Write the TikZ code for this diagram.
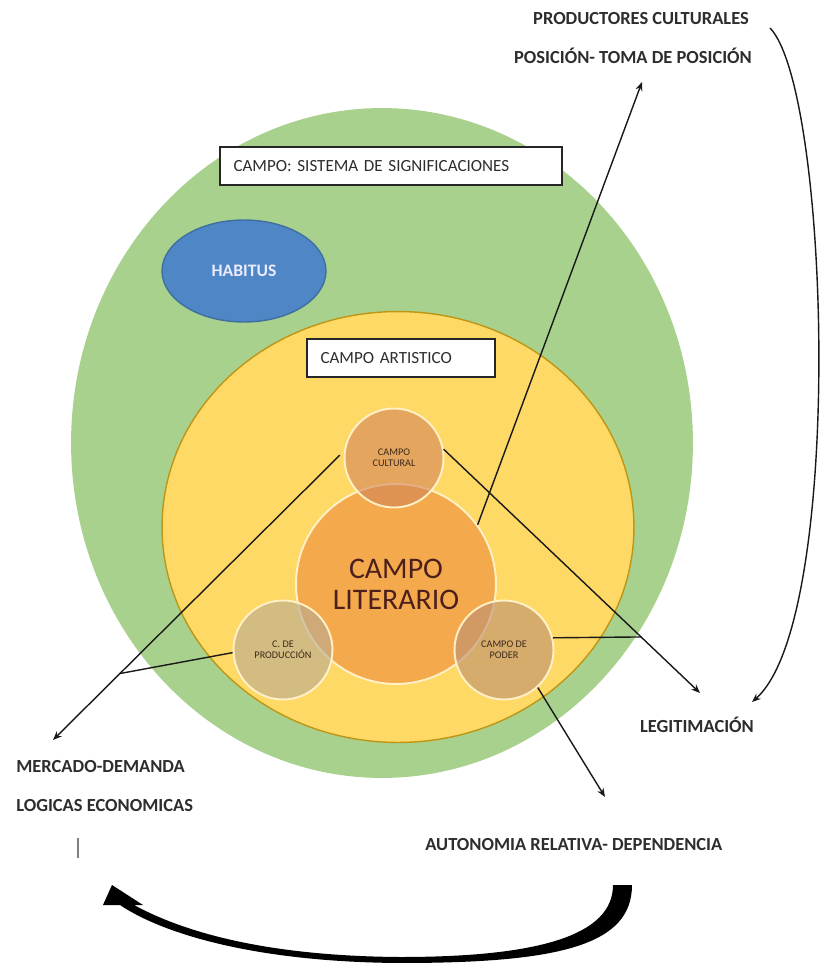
\documentclass[tikz,border=0pt]{standalone}
\usepackage{fontspec}
\setmainfont{Carlito}
\usetikzlibrary{positioning,arrows.meta,shapes.geometric}

\definecolor{campogreen}{RGB}{169,209,142}
\definecolor{campoyellow}{RGB}{255,217,102}
\definecolor{yellowedge}{RGB}{191,150,20}
\definecolor{literorange}{RGB}{244,170,76}
\definecolor{culttan}{RGB}{210,132,89}
\definecolor{podertan}{RGB}{187,142,115}
\definecolor{prodtan}{RGB}{183,169,149}
\definecolor{circedge}{RGB}{255,240,200}
\definecolor{habblue}{RGB}{78,134,198}
\definecolor{habedge}{RGB}{63,111,160}
\definecolor{labelgray}{RGB}{45,45,45}
\definecolor{circtext}{RGB}{60,40,25}
\definecolor{literbrown}{RGB}{77,31,28}

\tikzset{
    titlebox/.style={draw=black!85, line width=1.2pt, fill=white, inner xsep=0.27cm,
        minimum height=0.76cm, align=left, text=labelgray,
        font=\fontsize{9.7}{11}\selectfont},
    outerlabel/.style={text=labelgray, inner sep=0pt,
        font=\bfseries\fontsize{10.5}{12}\selectfont},
    subcircle/.style={circle, draw=circedge, line width=1.1pt, minimum size=1.98cm,
        inner sep=0pt, fill opacity=0.6, text opacity=1, align=center,
        text=circtext, font=\fontsize{5.8}{6.3}\selectfont},
    conn/.style={draw=black!90, line width=0.8pt}
}

\begin{document}
\begin{tikzpicture}[>={Stealth[length=5pt,width=4pt]}, x=0.02cm, y=-0.02cm]
    \useasboundingbox (0,0) rectangle (820,963);

    % outer fields
    \node[ellipse, fill=campogreen, minimum width=12.44cm, minimum height=13.4cm, inner sep=0pt]
        (sistema) at (382,443) {};
    \node[ellipse, fill=campoyellow, draw=yellowedge, line width=0.8pt,
        minimum width=9.44cm, minimum height=8.62cm, inner sep=0pt] (artistico) at (398,527) {};
    \node[ellipse, fill=habblue, draw=habedge, line width=0.8pt, minimum width=3.28cm,
        minimum height=2.04cm, inner sep=0pt, text=white!92!blue,
        font=\bfseries\fontsize{10}{12}\selectfont] (habitus) at (244,271) {HABITUS};

    % titles
    \node[titlebox, text width=6.30cm] (titleSis) at (391,166) {CAMPO: SISTEMA DE SIGNIFICACIONES};
    \node[titlebox, text width=3.22cm] (titleArt) at (401,358) {CAMPO ARTISTICO};

    % inner circles
    \node[circle, fill=literorange, draw=circedge, line width=1.1pt, minimum size=4.0cm,
        inner sep=0pt, align=center, text=literbrown, font=\fontsize{17}{17.6}\selectfont]
        (lit) at (396,584) {CAMPO\\LITERARIO};
    \foreach \name/\x/\y/\col/\txt in {cult/394/458/culttan/{CAMPO\\CULTURAL},
        prod/283/650/prodtan/{C. DE\\PRODUCCIÓN}, poder/504/650/podertan/{CAMPO DE\\PODER}} {
        \node[subcircle, fill=\col] (\name) at (\x,\y) {\txt};
    }

    % outer labels
    \node[outerlabel] (prodCult) at (641,19) {PRODUCTORES CULTURALES};
    \node[outerlabel] (posicion) at (633,56) {POSICIÓN- TOMA DE POSICIÓN};
    \node[outerlabel] (legit) at (697,725) {LEGITIMACIÓN};
    \node[outerlabel, anchor=west] (mercado) at (16,767) {MERCADO-DEMANDA};
    \node[outerlabel, anchor=west] (logicas) at (16,806) {LOGICAS ECONOMICAS};
    \node[outerlabel, anchor=west] (autonomia) at (425,845) {AUTONOMIA RELATIVA- DEPENDENCIA};

    % arrow ends
    \coordinate (posTip) at (642,82);
    \coordinate (legTipA) at (700,693);
    \coordinate (legTipB) at (752,702);
    \coordinate (prodStart) at (770,28);
    \coordinate (mercTip) at (53,740);
    \coordinate (autTip) at (605,797);
    \coordinate (barTop) at (78,838);
    \coordinate (barBot) at (78,858);

    % connectors
    \draw[conn, ->] (lit.36) -- (posTip);
    \draw[conn, ->] (prodStart) .. controls (830,90) and (845,620) .. (legTipB);
    \draw[conn, ->] (cult.10) -- coordinate[pos=0.77] (joinLeg) (legTipA);
    \draw[conn] (poder.14) -- (joinLeg);
    \draw[conn, ->, shorten <=0.12cm] (cult.172) -- coordinate[pos=0.77] (joinMerc) (mercTip);
    \draw[conn] (prod.183) -- (joinMerc);
    \draw[conn, ->] (poder.-48) -- (autTip);
    \draw[black!50, line width=0.6pt] (barTop) -- (barBot);

    % big curved arrow
    \fill[black] (613,885) -- (632,885) .. controls (632,945) and (560,963) .. (400,963)
        .. controls (250,962) and (160,932) .. (120,905) -- (103,905) -- (112,885) -- (143,905)
        -- (134,905) .. controls (180,930) and (260,956) .. (400,957)
        .. controls (540,957) and (613,935) .. (613,885) -- cycle;
\end{tikzpicture}
\end{document}
